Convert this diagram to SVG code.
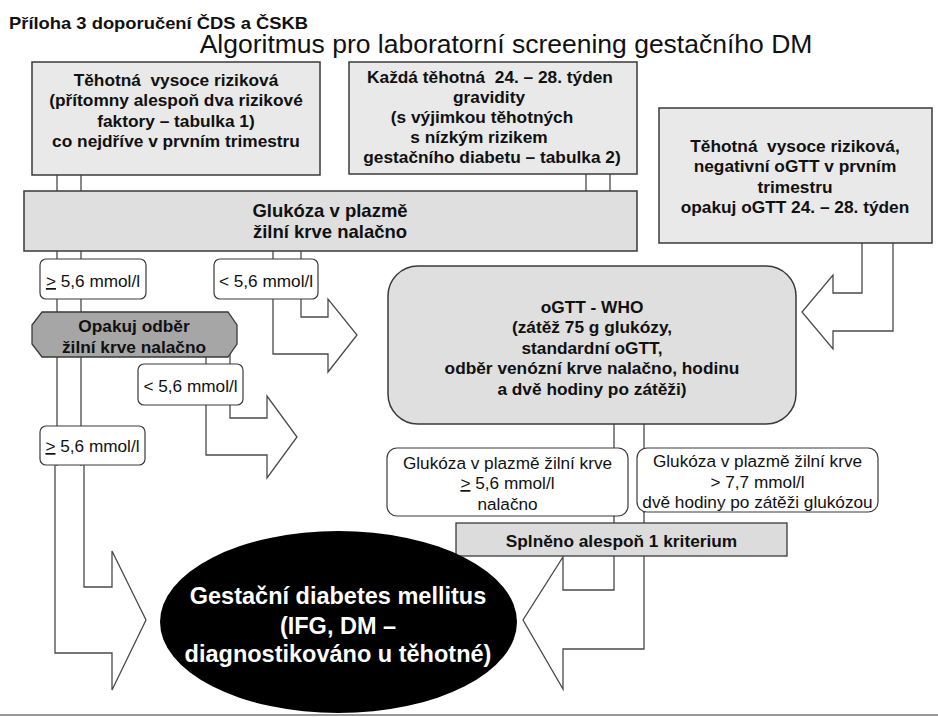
<svg xmlns="http://www.w3.org/2000/svg" width="938" height="717" viewBox="0 0 938 717">
<style>
text{font-family:"Liberation Sans",Arial,sans-serif;fill:#111}
.b{font-weight:bold;font-size:17.3px;text-anchor:middle}
.r{font-size:17.2px;text-anchor:middle}
.big{font-size:18.5px}
.gdm{font-size:23.5px;fill:#fff}
.box{fill:#e9e9e9;stroke:#3a3a3a;stroke-width:1.5}
.bar{fill:#dfdfdf;stroke:#3a3a3a;stroke-width:1.5}
.lbl{fill:#fff;stroke:#3a3a3a;stroke-width:1.2}
.conn{fill:none;stroke:#4a4a4a;stroke-width:1.3}
</style>
<rect width="938" height="717" fill="#fff"/>
<text x="9" y="29" font-weight="bold" font-size="17" textLength="299" lengthAdjust="spacingAndGlyphs">Příloha 3 doporučení ČDS a ČSKB</text>
<text x="506" y="53" font-size="26.5" text-anchor="middle">Algoritmus pro laboratorní screening gestačního DM</text>
<line x1="0" y1="715" x2="938" y2="715" stroke="#999" stroke-width="2"/>

<g id="connectors">
<line class="conn" x1="57" y1="174" x2="57" y2="466"/>
<line class="conn" x1="81" y1="174" x2="81" y2="466"/>
<line class="conn" x1="586" y1="173" x2="586" y2="192"/>
<line class="conn" x1="610" y1="173" x2="610" y2="192"/>
<line class="conn" x1="273" y1="250" x2="273" y2="260"/>
<line class="conn" x1="301" y1="250" x2="301" y2="260"/>
<line class="conn" x1="206" y1="350" x2="206" y2="365"/>
<line class="conn" x1="230" y1="340" x2="230" y2="365"/>
<line class="conn" x1="614" y1="423" x2="614" y2="517"/>
<line class="conn" x1="644" y1="423" x2="644" y2="513"/>
<polyline class="conn" points="301,299 301,317 328,317 328,299 357,335 328,372 328,354 273,354 273,299"/>
<polyline class="conn" points="230,405 230,418 267,418 267,396 297,437 267,478 267,455 206,455 206,405"/>
<polyline class="conn" points="84,465 84,587 112,587 112,551 146,620 112,690 112,653 55,653 55,465"/>
<polyline class="conn" points="862,243 862,293 833,293 833,275 802,312 833,349 833,331 893,331 893,243"/>
<polyline class="conn" points="614,516 614,590 563,590 563,557 523,620 563,689 563,649 644,649 644,512"/>
</g>

<g id="n-high-risk">
<rect class="box" x="32" y="62" width="288" height="113"/>
<text class="b" x="176" y="86" xml:space="preserve">Těhotná  vysoce riziková</text>
<text class="b" x="176" y="106">(přítomny alespoň dva rizikové</text>
<text class="b" x="176" y="127">faktory – tabulka 1)</text>
<text class="b" x="176" y="147">co nejdříve v prvním trimestru</text>
</g>

<g id="n-every">
<rect class="box" x="349" y="62" width="288" height="112"/>
<text class="b" x="490" y="83" xml:space="preserve">Každá těhotná  24. – 28. týden</text>
<text class="b" x="489" y="103">gravidity</text>
<text class="b" x="482" y="123">(s výjimkou těhotných</text>
<text class="b" x="479" y="143">s nízkým rizikem</text>
<text class="b" x="492" y="163">gestačního diabetu – tabulka 2)</text>
</g>

<g id="n-repeat-ogtt">
<rect class="box" x="659" y="108" width="273" height="135"/>
<text class="b" x="795" y="152" xml:space="preserve">Těhotná  vysoce riziková,</text>
<text class="b" x="795" y="172">negativní oGTT v prvním</text>
<text class="b" x="795" y="193">trimestru</text>
<text class="b" x="795" y="213">opakuj oGTT 24. – 28. týden</text>
</g>

<g id="n-glucose">
<rect class="bar" x="24" y="191" width="613" height="60"/>
<text class="b big" x="330" y="217">Glukóza v plazmě</text>
<text class="b big" x="330" y="238">žilní krve nalačno</text>
</g>

<g id="n-ge1">
<rect class="lbl" x="40" y="259" width="106" height="40" rx="6"/>
<text class="r" x="93" y="287"><tspan text-decoration="underline">&gt;</tspan> 5,6 mmol/l</text>
</g>

<g id="n-lt1">
<rect class="lbl" x="214" y="259" width="104" height="40" rx="6"/>
<text class="r" x="266" y="287">&lt; 5,6 mmol/l</text>
</g>

<g id="n-repeat">
<polygon points="42,312 228,312 237,325 237,344 228,357 42,357 32,344 32,325" fill="#a6a6a6" stroke="#3a3a3a" stroke-width="1.3"/>
<text class="b" x="134" y="332">Opakuj odběr</text>
<text class="b" x="134" y="353">žilní krve nalačno</text>
</g>

<g id="n-lt2">
<rect class="lbl" x="138" y="364" width="105" height="41" rx="6"/>
<text class="r" x="190.5" y="392">&lt; 5,6 mmol/l</text>
</g>

<g id="n-ge2">
<rect class="lbl" x="40" y="426" width="105" height="39" rx="6"/>
<text class="r" x="92.5" y="452"><tspan text-decoration="underline">&gt;</tspan> 5,6 mmol/l</text>
</g>

<g id="n-ogtt">
<rect class="bar" x="388" y="266" width="408" height="158" rx="30"/>
<text class="b" x="592" y="313">oGTT - WHO</text>
<text class="b" x="592" y="333">(zátěž 75 g glukózy,</text>
<text class="b" x="592" y="354">standardní oGTT,</text>
<text class="b" x="592" y="374">odběr venózní krve nalačno, hodinu</text>
<text class="b" x="592" y="395">a dvě hodiny po zátěži)</text>
</g>

<g id="n-crit1">
<rect class="lbl" x="387" y="448" width="241" height="68" rx="10"/>
<text class="r" x="507.5" y="469">Glukóza v plazmě žilní krve</text>
<text class="r" x="507.5" y="489"><tspan text-decoration="underline">&gt;</tspan> 5,6 mmol/l</text>
<text class="r" x="507.5" y="510">nalačno</text>
</g>

<g id="n-crit2">
<rect class="lbl" x="637" y="448" width="241" height="64" rx="10"/>
<text class="r" x="757.5" y="467">Glukóza v plazmě žilní krve</text>
<text class="r" x="757.5" y="488">&gt; 7,7 mmol/l</text>
<text class="r" x="757.5" y="508">dvě hodiny po zátěži glukózou</text>
</g>

<g id="n-met">
<rect x="456" y="523" width="331" height="33" fill="#dcdcdc" stroke="#3a3a3a" stroke-width="1.3"/>
<text class="b" x="621.5" y="547">Splněno alespoň 1 kriterium</text>
</g>

<g id="n-gdm">
<ellipse cx="338.5" cy="622" rx="178.5" ry="91" fill="#000"/>
<text class="b gdm" x="338" y="604">Gestační diabetes mellitus</text>
<text class="b gdm" x="338" y="634">(IFG, DM –</text>
<text class="b gdm" x="338" y="662">diagnostikováno u těhotné)</text>
</g>
</svg>
